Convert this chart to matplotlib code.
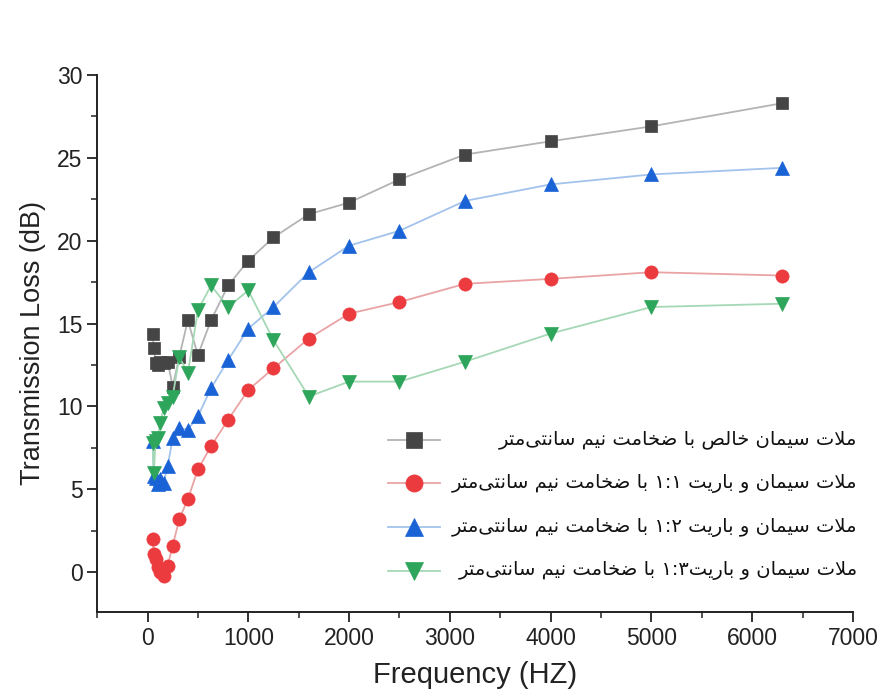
import re
import matplotlib
matplotlib.use("Agg")
import matplotlib.pyplot as plt
from matplotlib.ticker import MultipleLocator

# 1/3 octave band centre frequencies (Hz)
freq = [50, 63, 80, 100, 125, 160, 200, 250, 315, 400, 500, 630, 800,
        1000, 1250, 1600, 2000, 2500, 3150, 4000, 5000, 6300]

tl_pure = [14.4, 13.5, 12.6, 12.5, 12.7, 12.6, 12.7, 11.2, 13.0, 15.2, 13.1,
           15.2, 17.3, 18.8, 20.2, 21.6, 22.3, 23.7, 25.2, 26.0, 26.9, 28.3]
tl_11 = [2.0, 1.1, 0.8, 0.3, 0.0, -0.2, 0.4, 1.6, 3.2, 4.4, 6.2,
         7.6, 9.2, 11.0, 12.3, 14.1, 15.6, 16.3, 17.4, 17.7, 18.1, 17.9]
tl_12 = [7.9, 5.8, 5.7, 5.3, 5.6, 5.4, 6.4, 8.1, 8.7, 8.6, 9.4,
         11.1, 12.8, 14.7, 16.0, 18.1, 19.7, 20.6, 22.4, 23.4, 24.0, 24.4]
tl_13 = [7.8, 6.0, 7.9, 8.1, 9.0, 9.9, 10.2, 10.6, 13.0, 12.0, 15.8,
         17.3, 16.0, 17.0, 14.0, 10.6, 11.5, 11.5, 12.7, 14.4, 16.0, 16.2]

labels = [
    "ملات سیمان خالص با ضخامت نیم سانتی‌متر",
    "ملات سیمان و باریت ۱:۱ با ضخامت نیم سانتی‌متر",
    "ملات سیمان و باریت ۱:۲ با ضخامت نیم سانتی‌متر",
    "ملات سیمان و باریت۱:۳ با ضخامت نیم سانتی‌متر",
]

# simple Persian shaping (presentation forms) + visual reordering
FORMS = {  # isolated, final, initial, medial
    "ا": ("\uFE8D", "\uFE8E", None, None),
    "ب": ("\uFE8F", "\uFE90", "\uFE91", "\uFE92"),
    "ت": ("\uFE95", "\uFE96", "\uFE97", "\uFE98"),
    "خ": ("\uFEA5", "\uFEA6", "\uFEA7", "\uFEA8"),
    "ر": ("\uFEAD", "\uFEAE", None, None),
    "س": ("\uFEB1", "\uFEB2", "\uFEB3", "\uFEB4"),
    "ص": ("\uFEB9", "\uFEBA", "\uFEBB", "\uFEBC"),
    "ض": ("\uFEBD", "\uFEBE", "\uFEBF", "\uFEC0"),
    "ل": ("\uFEDD", "\uFEDE", "\uFEDF", "\uFEE0"),
    "م": ("\uFEE1", "\uFEE2", "\uFEE3", "\uFEE4"),
    "ن": ("\uFEE5", "\uFEE6", "\uFEE7", "\uFEE8"),
    "و": ("\uFEED", "\uFEEE", None, None),
    "ی": ("\uFBFC", "\uFBFD", "\uFBFE", "\uFBFF"),
}


def shape(s):
    out = []
    i = 0
    n = len(s)
    while i < n:
        c = s[i]
        if c not in FORMS:
            if c != "\u200c":
                out.append(c)
            i += 1
            continue
        prev = s[i - 1] if i > 0 else ""
        joins_prev = prev in FORMS and FORMS[prev][2] is not None
        if c == "ل" and i + 1 < n and s[i + 1] == "ا":
            out.append("\uFEFC" if joins_prev else "\uFEFB")
            i += 2
            continue
        nxt = s[i + 1] if i + 1 < n else ""
        joins_next = FORMS[c][2] is not None and nxt in FORMS
        iso, fin, ini, med = FORMS[c]
        if joins_prev and joins_next:
            out.append(med)
        elif joins_prev:
            out.append(fin)
        elif joins_next:
            out.append(ini)
        else:
            out.append(iso)
        i += 1
    txt = "".join(out)
    parts = re.split(r"([0-9۰-۹]+(?::[0-9۰-۹]+)*)", txt)
    vis = [p if re.fullmatch(r"[0-9۰-۹:]+", p) else p[::-1] for p in parts]
    return "".join(vis[::-1])


plt.rcParams["font.family"] = ["Liberation Sans", "DejaVu Sans"]

fig = plt.figure(figsize=(8.83, 6.99), dpi=100)
ax = fig.add_axes([0.110, 0.1245, 0.856, 0.7682])

series = [
    (tl_pure, "s", "#454545", "#b4b4b4", 8.5),
    (tl_11, "o", "#ec3b3f", "#eaa3a5", 9.5),
    (tl_12, "^", "#1a63d6", "#a3c3ec", 10),
    (tl_13, "v", "#2da55a", "#a5d8b5", 10),
]

handles = []
for (vals, mk, mc, lc, ms) in series:
    h, = ax.plot(freq, vals, color=lc, lw=1.3, marker=mk, markersize=ms,
                 markerfacecolor=mc, markeredgecolor=mc, markeredgewidth=0.5)
    handles.append(h)

ax.set_xlim(-500, 7000)
ax.set_ylim(-2.4, 30)
ax.xaxis.set_major_locator(MultipleLocator(1000))
ax.xaxis.set_minor_locator(MultipleLocator(500))
ax.yaxis.set_major_locator(MultipleLocator(5))
ax.yaxis.set_minor_locator(MultipleLocator(2.5))
ax.set_xticks(range(0, 7001, 1000))
ax.spines["top"].set_visible(False)
ax.spines["right"].set_visible(False)
for s in ("left", "bottom"):
    ax.spines[s].set_linewidth(1.4)
    ax.spines[s].set_color("#222222")
ax.tick_params(which="major", direction="out", length=7, width=1.3,
               labelsize=16.5, colors="#222222")
ax.tick_params(which="minor", direction="out", length=4, width=1.1,
               colors="#222222")
ax.set_xlabel("Frequency (HZ)", fontsize=21, color="#222222", labelpad=8)
ax.set_ylabel("Transmission Loss (dB)", fontsize=19.5, color="#222222",
              labelpad=8)

leg = ax.legend(handles, ["", "", "", ""], loc="upper left",
                bbox_to_anchor=(0.365, 0.36), frameon=False,
                handlelength=3.1, handletextpad=0, labelspacing=1.72,
                markerscale=1.3, fontsize=12)

fig.canvas.draw()
inv = ax.transAxes.inverted()
for h, lab in zip(leg.legend_handles, labels):
    bb = h.get_window_extent(fig.canvas.get_renderer())
    yc = inv.transform((0, (bb.y0 + bb.y1) / 2))[1]
    ax.text(1.006, yc, shape(lab), transform=ax.transAxes, ha="right",
            va="center", fontsize=14, family=["DejaVu Sans"],
            color="#111111")

fig.savefig("out.png", dpi=100)
